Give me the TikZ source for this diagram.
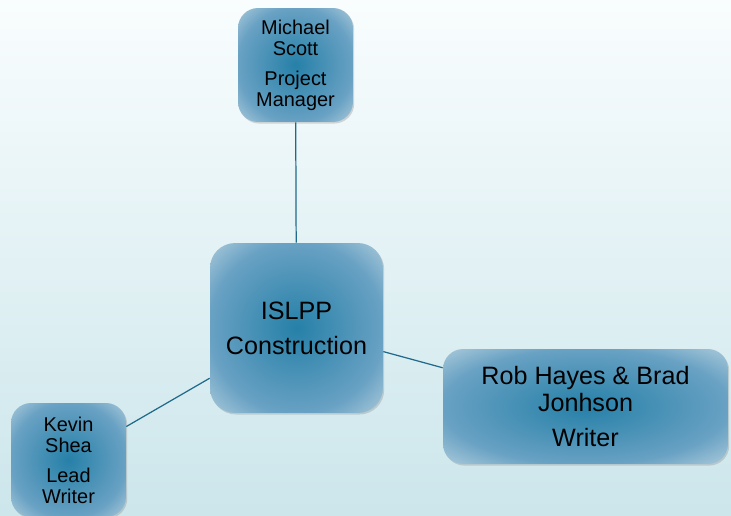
\documentclass[tikz,border=0pt]{standalone}
\usepackage{fontspec}
\setmainfont{Liberation Sans}
\usepackage{xcolor}
\usepackage{tikz}
\usetikzlibrary{shapes,positioning,calc,shadows}

\definecolor{boxinner}{RGB}{38,128,168}
\definecolor{boxmid}{RGB}{104,161,195}
\definecolor{boxouter}{RGB}{174,204,220}
\definecolor{linkblue}{RGB}{31,106,138}
\definecolor{bgtop}{RGB}{249,253,254}
\definecolor{bgmid}{RGB}{243,250,252}
\definecolor{bgbottom}{RGB}{204,230,235}

\pgfdeclareradialshading{boxglow}{\pgfpoint{0bp}{0bp}}{color(0bp)=(boxinner); color(25bp)=(boxmid); color(36bp)=(boxouter); color(50bp)=(boxouter)}

\begin{document}
\begin{tikzpicture}[x=0.02cm, y=-0.02cm,
    box/.style={rectangle, rounded corners=0.4cm, shading=boxglow, align=center, inner sep=0pt,
        drop shadow={opacity=0.3, shadow xshift=0.7pt, shadow yshift=-0.9pt}},
    member/.style={box, minimum width=2.3cm, minimum height=2.28cm,
        font=\fontsize{11.35}{12}\selectfont},
    hub/.style={box, rounded corners=0.5cm, minimum width=3.46cm, minimum height=3.4cm,
        font=\fontsize{14.3}{14.9}\selectfont},
    wide/.style={box, minimum width=5.7cm, minimum height=2.3cm,
        font=\fontsize{14.3}{14.9}\selectfont},
    link/.style={draw=linkblue, line width=0.7pt}]

    % Background
    \useasboundingbox (0,0) rectangle (731,515);
    \shade[top color=bgtop, middle color=bgmid, bottom color=bgbottom] (0,0) rectangle (731,515);

    % Boxes
    \node[member] (mgr) at (295.5,65) {Michael\\Scott\\[5pt]Project\\Manager};
    \node[hub] (hub) at (296.5,328) {ISLPP\\[5pt]Construction};
    \node[wide] (writer) at (585.5,406.5) {Rob Hayes \& Brad\\Jonhson\\[5pt]Writer};
    \node[member] (lead) at (68.5,460) {Kevin\\Shea\\[5pt]Lead\\Writer};

    % Links
    \draw[link] (hub) -- (mgr);
    \draw[link] (hub) -- (writer);
    \draw[link] (hub) -- (lead);
\end{tikzpicture}
\end{document}
